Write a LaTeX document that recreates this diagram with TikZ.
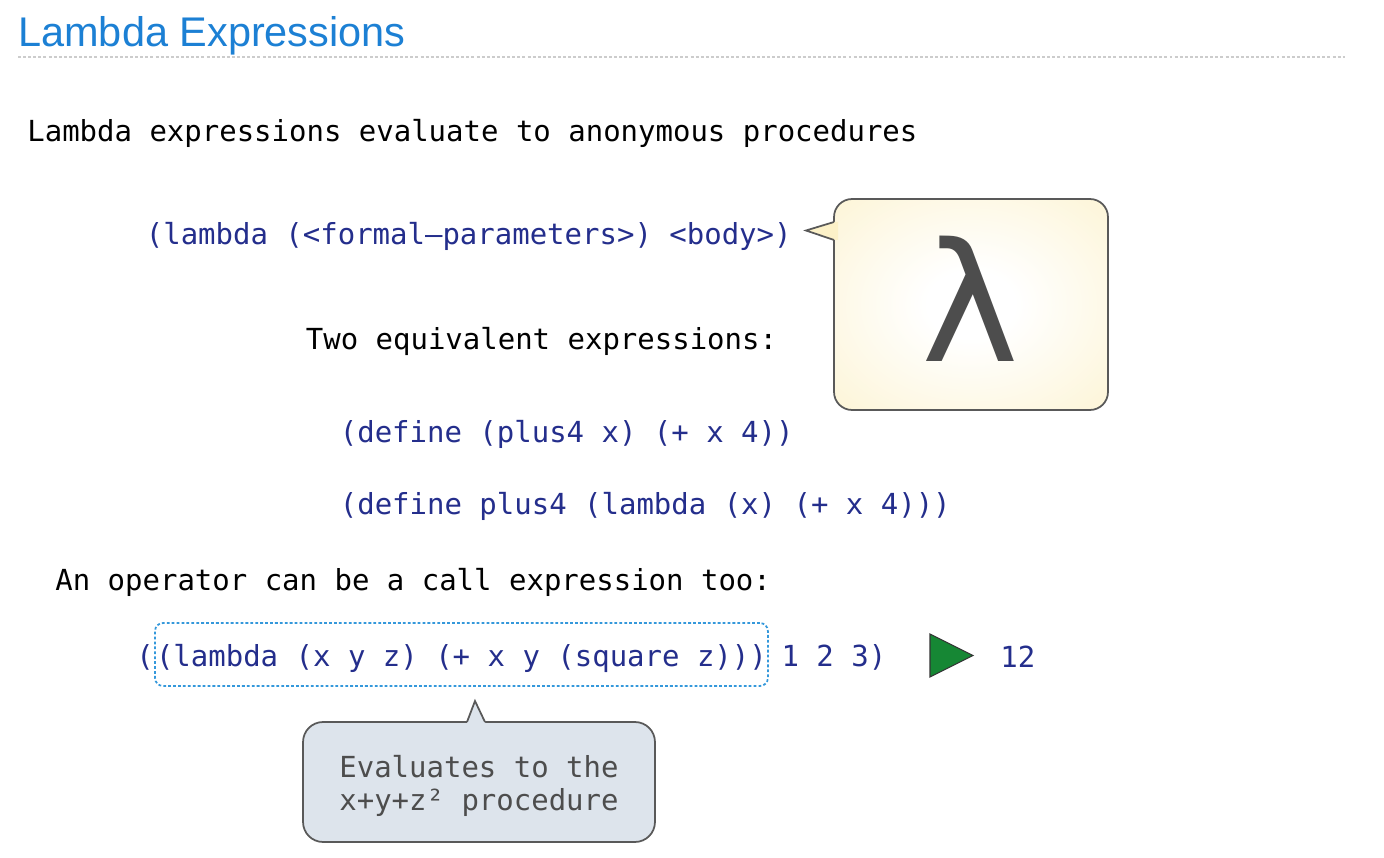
\documentclass[tikz,border=0pt]{standalone}
\usepackage{fontspec}
\setmonofont{DejaVu Sans Mono}
\newfontfamily\headfont{Liberation Sans}
\newfontfamily\greekfont{DejaVu Sans}
\usepackage{tikz}
\usetikzlibrary{positioning}

\definecolor{headblue}{RGB}{28,128,212}
\definecolor{codeblue}{RGB}{36,46,140}
\definecolor{notegray}{RGB}{77,77,77}
\definecolor{notefill}{RGB}{221,228,236}
\definecolor{bubbleyellow}{RGB}{252,241,200}
\definecolor{rungreen}{RGB}{22,135,52}
\definecolor{boxblue}{RGB}{52,152,219}

\pgfdeclareradialshading{bubbleglow}{\pgfpoint{0bp}{0bp}}{color(0bp)=(white); color(8bp)=(white); color(46bp)=(bubbleyellow); color(50bp)=(bubbleyellow)}

\tikzset{
	prose/.style={inner sep=0pt, anchor=base west, font=\ttfamily\fontsize{16.5}{20}\selectfont},
	codeline/.style={prose, text=codeblue},
	headtext/.style={inner sep=0pt, anchor=base west, text=headblue, font=\headfont\fontsize{23.6}{26}\selectfont},
	headrule/.style={draw=black!20, line width=0.6pt, dash pattern=on 1.7pt off 1.2pt},
	callbox/.style={draw=boxblue, line width=1pt, dash pattern=on 1.6pt off 1.2pt, rounded corners=0.16cm, inner xsep=0.02cm, inner ysep=0pt, text height=0.86cm, text depth=0.40cm},
	lambubble/.style={draw=black!65, line width=1pt, rounded corners=0.36cm, minimum width=5.48cm, minimum height=4.22cm, inner sep=0pt, shading=bubbleglow},
	lamglyph/.style={inner sep=0pt, anchor=base, text=notegray, font=\greekfont\fontsize{94}{94}\selectfont},
	notebox/.style={draw=black!65, line width=1pt, fill=notefill, rounded corners=0.4cm, minimum width=7.04cm, minimum height=2.4cm, inner sep=0pt},
	notetext/.style={inner sep=0pt, align=center, text=notegray, font=\ttfamily\fontsize{16.5}{18.7}\selectfont},
	outline/.style={draw=black!65, line width=1pt, line join=miter},
	runarrow/.style={draw=black!80, line width=0.6pt, fill=rungreen}
}

\begin{document}
\begin{tikzpicture}[x=0.02cm, y=-0.02cm]
	\useasboundingbox (0,0) rectangle (1384,858);

	%Title
	\node[headtext] (Title) at (18,46.5) {Lambda Expressions};
	\coordinate (RuleL) at (18,57);
	\coordinate (RuleR) at (1345,57);
	\draw[headrule] (RuleL) -- (RuleR);

	%Lines of text
	\node[prose] (Intro) at (27,142) {Lambda expressions evaluate to anonymous procedures};
	\node[codeline] (Form) at (145.5,245) {(lambda (<formal–parameters>) <body>)};
	\node[prose] (Equiv) at (305.5,350) {Two equivalent expressions:};
	\node[codeline] (DefA) at (339.5,442) {(define (plus4 x) (+ x 4))};
	\node[codeline] (DefB) at (339.5,515) {(define plus4 (lambda (x) (+ x 4)))};
	\node[prose] (Oper) at (55,590) {An operator can be a call expression too:};

	%Lambda bubble
	\node[lambubble] (Bubble) at (971,304.5) {};
	\coordinate (LamTip) at (806,230.5);
	\fill[bubbleyellow] (834,222) -- (LamTip) -- (834,240) -- (838,240) -- (838,222) -- cycle;
	\draw[outline] (834,222) -- (LamTip) -- (834,240);
	\node[lamglyph] (Lam) at (970.5,362) {λ};

	%Call expression
	\node[codeline] (Open) at (136,666) {(};
	\node[codeline, callbox] (Proc) at (Open.base east) {(lambda (x y z) (+ x y (square z)))};
	\node[codeline] (Args) at ([xshift=-0.1cm]Proc.base east) {\ 1 2 3)};
	\filldraw[runarrow] (930,634) -- (973,655.5) -- (930,677) -- cycle;
	\node[codeline] (Result) at (1000,667) {12};

	%Note
	\node[notebox] (NoteBox) at (479,782) {};
	\node[notetext] (Note) at (479,785.5) {Evaluates to the\\x+y+z² procedure};
	\coordinate (NoteTip) at (475,701);
	\fill[notefill] (467,722) -- (NoteTip) -- (485,722) -- (485,726) -- (467,726) -- cycle;
	\draw[outline] (467,722) -- (NoteTip) -- (485,722);

\end{tikzpicture}
\end{document}
